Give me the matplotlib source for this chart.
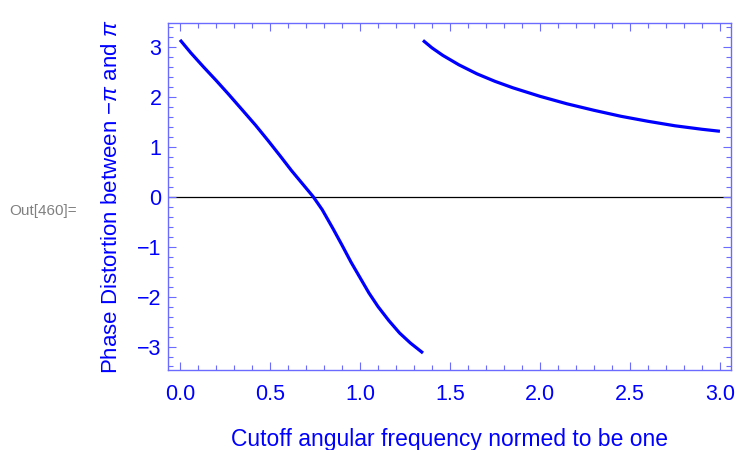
import matplotlib
matplotlib.use("Agg")
import matplotlib.pyplot as plt
from matplotlib.ticker import MultipleLocator

plt.rcParams['font.family'] = ['Liberation Sans', 'DejaVu Sans']
plt.rcParams['mathtext.fontset'] = 'custom'
plt.rcParams['mathtext.rm'] = 'Liberation Sans'
plt.rcParams['mathtext.it'] = 'Liberation Sans:italic'

# Branch 1 (0 .. ~1.35): phase wraps from +pi down to -pi
x1 = [0.0, 0.06, 0.13, 0.20, 0.27, 0.35, 0.42, 0.49, 0.56, 0.62, 0.68, 0.74,
      0.79, 0.85, 0.90, 0.95, 1.00, 1.05, 1.10, 1.16, 1.22, 1.28, 1.35]
y1 = [3.14, 2.88, 2.60, 2.33, 2.05, 1.72, 1.43, 1.12, 0.80, 0.52, 0.26, 0.0,
      -0.26, -0.64, -0.97, -1.31, -1.62, -1.93, -2.20, -2.48, -2.73, -2.93, -3.13]

# Branch 2 (~1.35 .. 3.0)
x2 = [1.35, 1.40, 1.46, 1.55, 1.65, 1.75, 1.85, 2.00, 2.15, 2.30, 2.45, 2.60,
      2.75, 2.90, 3.00]
y2 = [3.13, 2.98, 2.83, 2.64, 2.46, 2.31, 2.18, 2.01, 1.86, 1.73, 1.61, 1.51,
      1.42, 1.35, 1.31]

x_ticks = [0.0, 0.5, 1.0, 1.5, 2.0, 2.5, 3.0]
x_ticklabels = ["0.0", "0.5", "1.0", "1.5", "2.0", "2.5", "3.0"]
y_ticks = [-3, -2, -1, 0, 1, 2, 3]
y_ticklabels = ["\u22123", "\u22122", "\u22121", "0", "1", "2", "3"]

BLUE = "#0000ff"
FRAME = "#6b6bff"

fig = plt.figure(figsize=(7.37, 4.5), dpi=100)
ax = fig.add_axes([0.2284, 0.1778, 0.7631, 0.7702])

ax.axhline(0, color="black", lw=0.9, zorder=1)
ax.plot(x1, y1, color=BLUE, lw=2.3, solid_capstyle="butt", zorder=3)
ax.plot(x2, y2, color=BLUE, lw=2.3, solid_capstyle="butt", zorder=3)

ax.set_xlim(-0.065, 3.06)
ax.set_ylim(-3.47, 3.47)

ax.set_xticks(x_ticks)
ax.set_xticklabels(x_ticklabels)
ax.set_yticks(y_ticks)
ax.set_yticklabels(y_ticklabels)
ax.xaxis.set_minor_locator(MultipleLocator(0.1))
ax.yaxis.set_minor_locator(MultipleLocator(0.2))

for s in ax.spines.values():
    s.set_color(FRAME)
    s.set_linewidth(1.0)

ax.tick_params(which="both", direction="in", top=True, right=True,
               color=FRAME, width=0.8)
ax.tick_params(which="major", length=6, labelsize=15.5, labelcolor=BLUE)
ax.tick_params(axis="x", which="major", pad=10)
ax.tick_params(axis="y", which="major", pad=5)
ax.tick_params(which="minor", length=3.5)

ax.set_xlabel("Cutoff angular frequency normed to be one", fontsize=16.5,
              color=BLUE, labelpad=17)
ax.set_ylabel(r"Phase Distortion between $-\pi$ and $\pi$", fontsize=16,
              color=BLUE, labelpad=11)

fig.text(0.012, 0.531, "Out[460]=", fontsize=11, color="#808080",
         ha="left", va="center")

fig.savefig("out.png", dpi=100)
